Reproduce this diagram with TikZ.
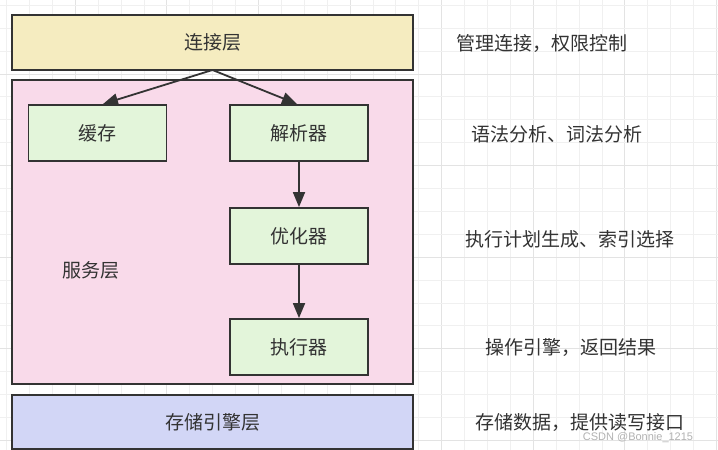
\documentclass[tikz,border=0pt]{standalone}
\usepackage{fontspec}
\newfontfamily\cjk{Noto Sans CJK SC}
\newfontfamily\wmfont{Liberation Sans}
\usetikzlibrary{arrows.meta}
\definecolor{gridminor}{HTML}{F0F0F0}
\definecolor{gridmajor}{HTML}{E3E3E3}
\definecolor{edge}{HTML}{333333}
\definecolor{txt}{HTML}{333333}
\definecolor{yel}{HTML}{F5ECC0}
\definecolor{pnk}{HTML}{F9DAEA}
\definecolor{grn}{HTML}{E3F5DA}
\definecolor{blu}{HTML}{D2D6F6}
\tikzset{
  layerbox/.style={draw=edge, line width=1.8pt, rectangle},
  compbox/.style={draw=edge, line width=1.8pt, fill=grn, rectangle, minimum width=138pt, minimum height=56pt, inner sep=0pt},
  lbl/.style={text=txt, font=\cjk\fontsize{19}{22}\selectfont, inner sep=0pt},
  conn/.style={draw=edge, line width=1.8pt, -{Triangle[length=15pt,width=12pt]}},
}
\begin{document}
\begin{tikzpicture}[x=1pt,y=-1pt]
\fill[white] (0,0) rectangle (718,450);
\useasboundingbox (0,0) rectangle (718,450);
% grid
\foreach \i in {0,...,31}{
  \pgfmathtruncatemacro{\m}{mod(\i,4)}
  \ifnum\m=3
    \draw[gridmajor, line width=1pt] ({6.6+22.9*\i},0) -- ({6.6+22.9*\i},450);
  \else
    \draw[gridminor, line width=1pt] ({6.6+22.9*\i},0) -- ({6.6+22.9*\i},450);
  \fi
}
\foreach \i in {0,...,19}{
  \pgfmathtruncatemacro{\m}{mod(\i,4)}
  \ifnum\m=3
    \draw[gridmajor, line width=1pt] (0,{5.3+22.9*\i}) -- (718,{5.3+22.9*\i});
  \else
    \draw[gridminor, line width=1pt] (0,{5.3+22.9*\i}) -- (718,{5.3+22.9*\i});
  \fi
}
% layers
\draw[layerbox, fill=yel] (12,15) rectangle (413,70);
\node[lbl] (conn) at (212.5,42.5) {连接层};
\coordinate (connb) at (212.5,70);
\draw[layerbox, fill=pnk] (12,80) rectangle (413,384);
\node[lbl] (svc) at (91,270) {服务层};
\draw[layerbox, fill=blu] (12,395) rectangle (413,449);
\node[lbl] (store) at (212.5,422) {存储引擎层};
% components
\node[compbox, lbl] (cache) at (97.5,133) {缓存};
\node[compbox, lbl] (parser) at (299,133) {解析器};
\node[compbox, lbl] (opt) at (299,236) {优化器};
\node[compbox, lbl] (exec) at (299,347) {执行器};
% connectors
\draw[conn] (connb) -- (103,104);
\draw[conn] (connb) -- (297,104);
\draw[conn] (parser.south) -- (opt.north);
\draw[conn] (opt.south) -- (exec.north);
% descriptions
\node[lbl] (d1) at (542,43) {管理连接，权限控制};
\node[lbl] (d2) at (556.5,134) {语法分析、词法分析};
\node[lbl] (d3) at (570,239) {执行计划生成、索引选择};
\node[lbl] (d4) at (570.5,348) {操作引擎，返回结果};
\node[lbl] (d5) at (579.5,423) {存储数据，提供读写接口};
\node[text=black!30, font=\wmfont\fontsize{11}{12}\selectfont, inner sep=0pt] (wm) at (638,438) {CSDN @Bonnie\_1215};
\end{tikzpicture}
\end{document}
